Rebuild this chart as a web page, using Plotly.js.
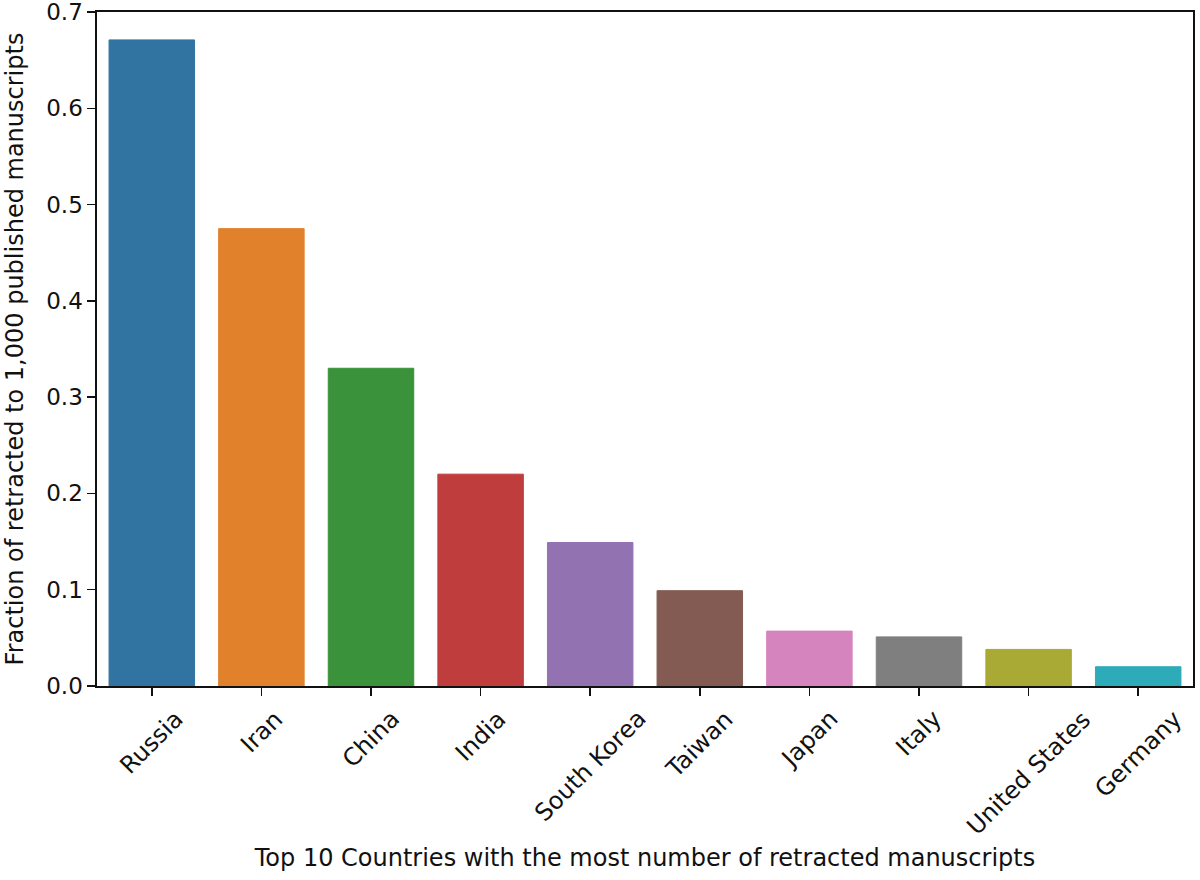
<!DOCTYPE html>
<html>
<head>
<meta charset="utf-8">
<script src="https://cdn.plot.ly/plotly-3.0.1.min.js"></script>
<style>html,body{margin:0;padding:0;background:#fff;}#chart{width:1200px;height:880px;}</style>
</head>
<body>
<div id="chart"></div>
<script>
const countries = ["Russia","Iran","China","India","South Korea","Taiwan","Japan","Italy","United States","Germany"];
const fractions = [0.671,0.475,0.330,0.220,0.149,0.099,0.057,0.051,0.038,0.020];
const barColors = ["#3274a1","#e1812c","#3a923a","#c03d3e","#9372b2","#845b53","#d684bd","#7f7f7f","#a9aa35","#2eabb8"];
const yTicks = [0,0.1,0.2,0.3,0.4,0.5,0.6,0.7];
const yTickText = ["0.0","0.1","0.2","0.3","0.4","0.5","0.6","0.7"];
const xTitle = "Top 10 Countries with the most number of retracted manuscripts";
const yTitle = "Fraction of retracted to 1,000 published manuscripts";

const font = "DejaVu Sans, sans-serif";
const fs = 24;

const trace = {
  type: "bar",
  x: countries,
  y: fractions,
  width: 0.78,
  marker: {color: barColors, line: {color: barColors, width: 1}},
  hoverinfo: "x+y"
};

const annotations = countries.map(c => ({
  x: c, xref: "x", y: -0.024, yref: "paper",
  text: c, showarrow: false, textangle: -45,
  xanchor: "center", yanchor: "top",
  font: {family: font, size: fs, color: "#111"}
}));

const layout = {
  width: 1200, height: 880,
  margin: {l: 97, r: 7, t: 12, b: 194},
  paper_bgcolor: "#fff", plot_bgcolor: "#fff",
  showlegend: false,
  font: {family: font, size: fs, color: "#111"},
  xaxis: {
    type: "category",
    range: [-0.5, 9.5],
    showticklabels: false,
    ticks: "outside", ticklen: 8, tickwidth: 1.5, tickcolor: "#111",
    showline: true, linecolor: "#111", linewidth: 1.6, mirror: true,
    showgrid: false, zeroline: false,
    title: {text: xTitle, font: {family: font, size: fs, color: "#111"}, standoff: 154}
  },
  yaxis: {
    range: [0, 0.7],
    tickvals: yTicks, ticktext: yTickText,
    ticks: "outside", ticklen: 8, tickwidth: 1.5, tickcolor: "#111",
    tickfont: {family: font, size: 23, color: "#111"},
    ticklabeloverflow: "allow",
    showline: true, linecolor: "#111", linewidth: 1.6, mirror: true,
    showgrid: false, zeroline: false,
    title: {text: yTitle, font: {family: font, size: fs, color: "#111"}, standoff: 16}
  },
  annotations: annotations
};

Plotly.newPlot("chart", [trace], layout, {displayModeBar: false, staticPlot: true});
</script>
</body>
</html>
